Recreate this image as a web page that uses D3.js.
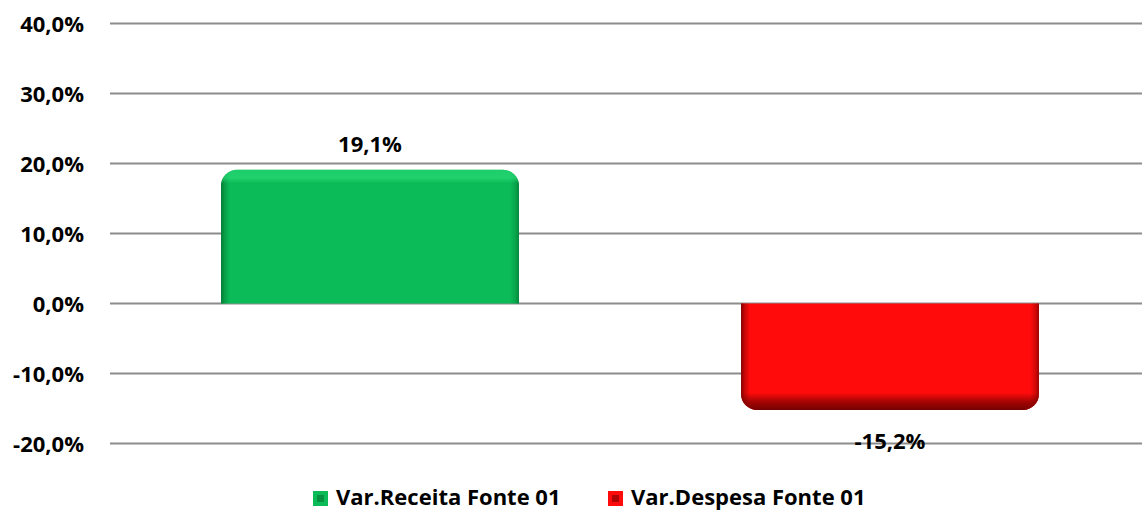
<!DOCTYPE html>
<html><head><meta charset="utf-8">
<script src="https://cdn.jsdelivr.net/npm/d3@7"></script>
<style>body{margin:0;background:#fff}svg{display:block}</style>
</head><body>
<svg id="c" width="1142" height="513"></svg>
<script>
const categories = ["Var.Receita Fonte 01", "Var.Despesa Fonte 01"];
const values = [19.1, -15.2];
const valueLabels = ["19,1%", "-15,2%"];
const tickValues = [-20, -10, 0, 10, 20, 30, 40];
const tickLabels = ["-20,0%", "-10,0%", "0,0%", "10,0%", "20,0%", "30,0%", "40,0%"];
const colors = ["#0bbb58", "#ff0b0b"];
const darkColors = ["#04702f", "#6e0000"];
const lightColors = ["#2ee07a", "#ff3a3a"];

const svg = d3.select("#c");
const font = "'Open Sans', 'Liberation Sans', sans-serif";
const y = d3.scaleLinear().domain([-20, 40]).range([443.5, 23.5]);
const x = d3.scaleBand().domain(categories).range([110, 1150]).paddingInner(0.427).paddingOuter(0.2135);

const defs = svg.append("defs");
categories.forEach((c, i) => {
  const h = defs.append("linearGradient").attr("id", "h" + i).attr("x1", 0).attr("x2", 1).attr("y1", 0).attr("y2", 0);
  h.append("stop").attr("offset", 0).attr("stop-color", darkColors[i]).attr("stop-opacity", 0.85);
  h.append("stop").attr("offset", 0.012).attr("stop-color", darkColors[i]).attr("stop-opacity", 0.4);
  h.append("stop").attr("offset", 0.03).attr("stop-color", darkColors[i]).attr("stop-opacity", 0);
  h.append("stop").attr("offset", 0.97).attr("stop-color", darkColors[i]).attr("stop-opacity", 0);
  h.append("stop").attr("offset", 0.988).attr("stop-color", darkColors[i]).attr("stop-opacity", 0.3);
  h.append("stop").attr("offset", 1).attr("stop-color", darkColors[i]).attr("stop-opacity", 0.7);
});
const gTop = defs.append("linearGradient").attr("id", "v0").attr("x1", 0).attr("x2", 0).attr("y1", 0).attr("y2", 1);
gTop.append("stop").attr("offset", 0).attr("stop-color", lightColors[0]).attr("stop-opacity", 0.5);
gTop.append("stop").attr("offset", 0.06).attr("stop-color", lightColors[0]).attr("stop-opacity", 0.6);
gTop.append("stop").attr("offset", 0.1).attr("stop-color", lightColors[0]).attr("stop-opacity", 0);
gTop.append("stop").attr("offset", 1).attr("stop-color", lightColors[0]).attr("stop-opacity", 0);
const gBot = defs.append("linearGradient").attr("id", "v1").attr("x1", 0).attr("x2", 0).attr("y1", 0).attr("y2", 1);
gBot.append("stop").attr("offset", 0).attr("stop-color", darkColors[1]).attr("stop-opacity", 0);
gBot.append("stop").attr("offset", 0.84).attr("stop-color", darkColors[1]).attr("stop-opacity", 0);
gBot.append("stop").attr("offset", 0.92).attr("stop-color", darkColors[1]).attr("stop-opacity", 0.6);
gBot.append("stop").attr("offset", 1).attr("stop-color", darkColors[1]).attr("stop-opacity", 0.95);

svg.append("g").selectAll("line").data(tickValues).join("line")
  .attr("x1", 110).attr("x2", 1142)
  .attr("y1", d => y(d)).attr("y2", d => y(d))
  .attr("stroke", "#8c8c8c").attr("stroke-width", 2);

svg.append("g").selectAll("text").data(tickValues).join("text")
  .attr("x", 84).attr("y", d => y(d) + 1).attr("dy", "0.35em")
  .attr("text-anchor", "end").attr("font-family", font).attr("font-weight", "bold")
  .attr("font-size", 22).attr("fill", "#000")
  .text((d, i) => tickLabels[i]);

function barPath(x0, w, y0, y1, r) {
  const p = d3.path();
  const s = y1 < y0 ? 1 : -1;
  p.moveTo(x0, y0); p.lineTo(x0, y1 + s * r);
  p.arcTo(x0, y1, x0 + r, y1, r); p.lineTo(x0 + w - r, y1);
  p.arcTo(x0 + w, y1, x0 + w, y1 + s * r, r); p.lineTo(x0 + w, y0); p.closePath();
  return p.toString();
}

const bars = svg.append("g");
categories.forEach((c, i) => {
  const d = barPath(x(c), x.bandwidth(), y(0), y(values[i]), 16);
  bars.append("path").attr("d", d).attr("fill", colors[i]);
  bars.append("path").attr("d", d).attr("fill", "url(#h" + i + ")");
  bars.append("path").attr("d", d).attr("fill", "url(#v" + i + ")");
});

svg.append("g").selectAll("text").data(values).join("text")
  .attr("x", (d, i) => x(categories[i]) + x.bandwidth() / 2)
  .attr("y", d => d >= 0 ? y(d) - 26 : y(d) + 31)
  .attr("dy", "0.35em").attr("text-anchor", "middle")
  .attr("font-family", font).attr("font-weight", "bold").attr("font-size", 22).attr("fill", "#000")
  .text((d, i) => valueLabels[i]);

const legendX = [313, 608];
const lg = svg.append("g");
categories.forEach((c, i) => {
  lg.append("rect").attr("x", legendX[i]).attr("y", 491).attr("width", 15).attr("height", 15).attr("fill", colors[i]);
  lg.append("rect").attr("x", legendX[i] + 4).attr("y", 495).attr("width", 7).attr("height", 7).attr("fill", darkColors[i]).attr("opacity", 0.55);
  lg.append("text").attr("x", legendX[i] + 23).attr("y", 497).attr("dy", "0.35em")
    .attr("font-family", font).attr("font-weight", "bold").attr("font-size", 22).attr("fill", "#000").text(c);
});
</script>
</body></html>
